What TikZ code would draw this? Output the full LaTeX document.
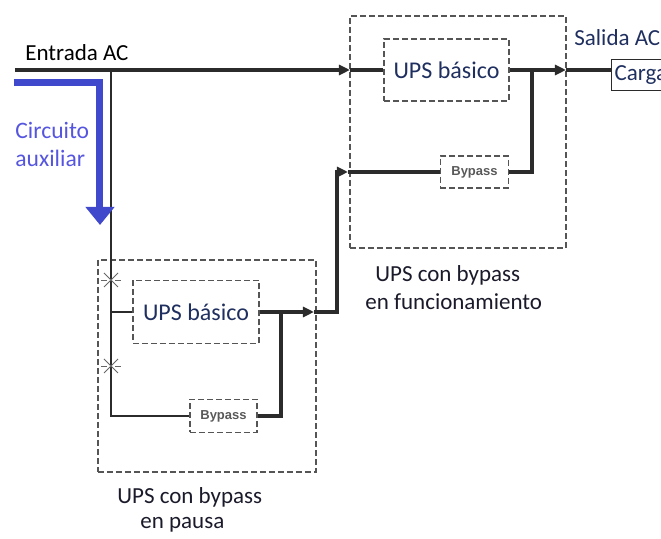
\documentclass[tikz,border=0pt]{standalone}
\usepackage{fontspec}
\setmainfont{Carlito}
\newfontfamily\bypassfont{Liberation Sans}
\usetikzlibrary{arrows.meta}
\definecolor{ink}{HTML}{2B2B2B}
\definecolor{framegray}{HTML}{555555}
\definecolor{navy}{HTML}{1F2F5F}
\definecolor{capink}{HTML}{1A1A2A}
\definecolor{auxblue}{HTML}{4048CC}
\definecolor{auxtext}{HTML}{5555E0}
\begin{document}
\begin{tikzpicture}[x=0.5pt,y=-0.5pt,
  conn/.style={draw=ink,line width=1.7pt},
  feed/.style={draw=ink,line width=1.2pt},
  tip/.style={-{Triangle[length=5.5pt,width=5pt]}},
  dbox/.style={draw=framegray,dash pattern=on 3pt off 1.5pt,line width=0.7pt,inner sep=0pt},
  upsbox/.style={dbox,minimum width=62.5pt,minimum height=31pt,font=\fontsize{12}{14}\selectfont,text=navy},
  bypbox/.style={dbox,minimum width=34pt,minimum height=16pt,font=\bypassfont\bfseries\fontsize{6.5}{8}\selectfont,text=black!65},
  lbl/.style={inner sep=0pt,anchor=west,font=\fontsize{11.5}{14}\selectfont},
  swmark/.style={draw=black!60,line width=0.4pt},
  auxarrow/.style={draw=auxblue,line width=3.5pt,-{Triangle[length=9pt,width=14pt]}},
]
\useasboundingbox (0,0) rectangle (661,539);
\clip (0,0) rectangle (661,539);

% outer dashed frames of the two UPS units
\node[dbox,minimum width=108pt,minimum height=116pt] (frameA) at (458,132) {};
\node[dbox,minimum width=109pt,minimum height=106pt] (frameB) at (207,366) {};

% inner blocks
\node[upsbox] (upsA) at (446.5,70) {UPS básico};
\node[bypbox] (bypA) at (474.5,172) {Bypass};
\node[upsbox,minimum width=63pt,minimum height=31.5pt] (upsB) at (196,312) {UPS básico};
\node[bypbox,minimum width=33.5pt,minimum height=16.5pt] (bypB) at (223.5,416) {Bypass};

% load box, running past the right edge
\node[draw=ink,line width=0.7pt,anchor=north west,inner sep=1.5pt,minimum height=15.5pt,
      text=navy,font=\fontsize{11.5}{14}\selectfont] (carga) at (611,59) {Carga\hspace{12pt}};

% labels
\node[lbl] (entrada) at (25,53) {Entrada AC};
\node[lbl,text=navy] (salida) at (574,38) {Salida AC};
\node[lbl,text=capink] (capA1) at (375,275) {UPS con bypass};
\node[lbl,text=capink] (capA2) at (365,302) {en funcionamiento};
\node[lbl,text=capink] (capB1) at (117,497) {UPS con bypass};
\node[lbl,text=capink] (capB2) at (140,525) {en pausa};
\node[lbl,text=auxtext,font=\fontsize{11.8}{14}\selectfont] (aux1) at (15,130) {Circuito};
\node[lbl,text=auxtext,font=\fontsize{11.8}{14}\selectfont] (aux2) at (15,158) {auxiliar};

% junction points
\coordinate (src) at (15,70);
\coordinate (tap) at (111,70);
\coordinate (inA) at (350,70);
\coordinate (outA) at (566,70);
\coordinate (joinA) at (532,70);
\coordinate (outB) at (314,312);
\coordinate (riseB) at (337,312);
\coordinate (inAb) at (348,172);
\coordinate (joinB) at (281,312);

% upper path: input -> UPS básico -> load
\draw[conn] (src) -- (tap);
\draw[conn,tip] (tap) -- (inA);
\draw[conn] (inA) -- (upsA.west);
\draw[conn,tip] (upsA.east) -- (outA);
\draw[conn] (outA) -- (carga.west |- outA);
\draw[conn] (bypA.east) -| (joinA);

% auxiliary feed to the lower unit
\draw[feed] (tap) |- (bypB.west);
\draw[feed] (tap |- upsB.west) -- (upsB.west);
\draw[conn] (bypB.east) -| (joinB);
\draw[conn,tip] (upsB.east) -- (outB);
\draw[conn,tip] (outB) -- (riseB) |- (inAb);
\draw[conn] (inAb) -- (bypA.west);

% open switch marks on the feed
\foreach \sy in {280,366}{
  \draw[swmark] (111,\sy) ++(-7,-7) -- ++(14,14);
  \draw[swmark] (111,\sy) ++(-7,7) -- ++(14,-14);
  \draw[swmark] (111,\sy) ++(-10,0) -- ++(6,0);
  \draw[swmark] (111,\sy) ++(4,0) -- ++(6,0);
}

% auxiliary circuit arrow
\coordinate (auxStart) at (14,83);
\coordinate (auxCorner) at (100,83);
\coordinate (auxEnd) at (100,225);
\draw[auxarrow] (auxStart) -- (auxCorner) -- (auxEnd);
\end{tikzpicture}
\end{document}
